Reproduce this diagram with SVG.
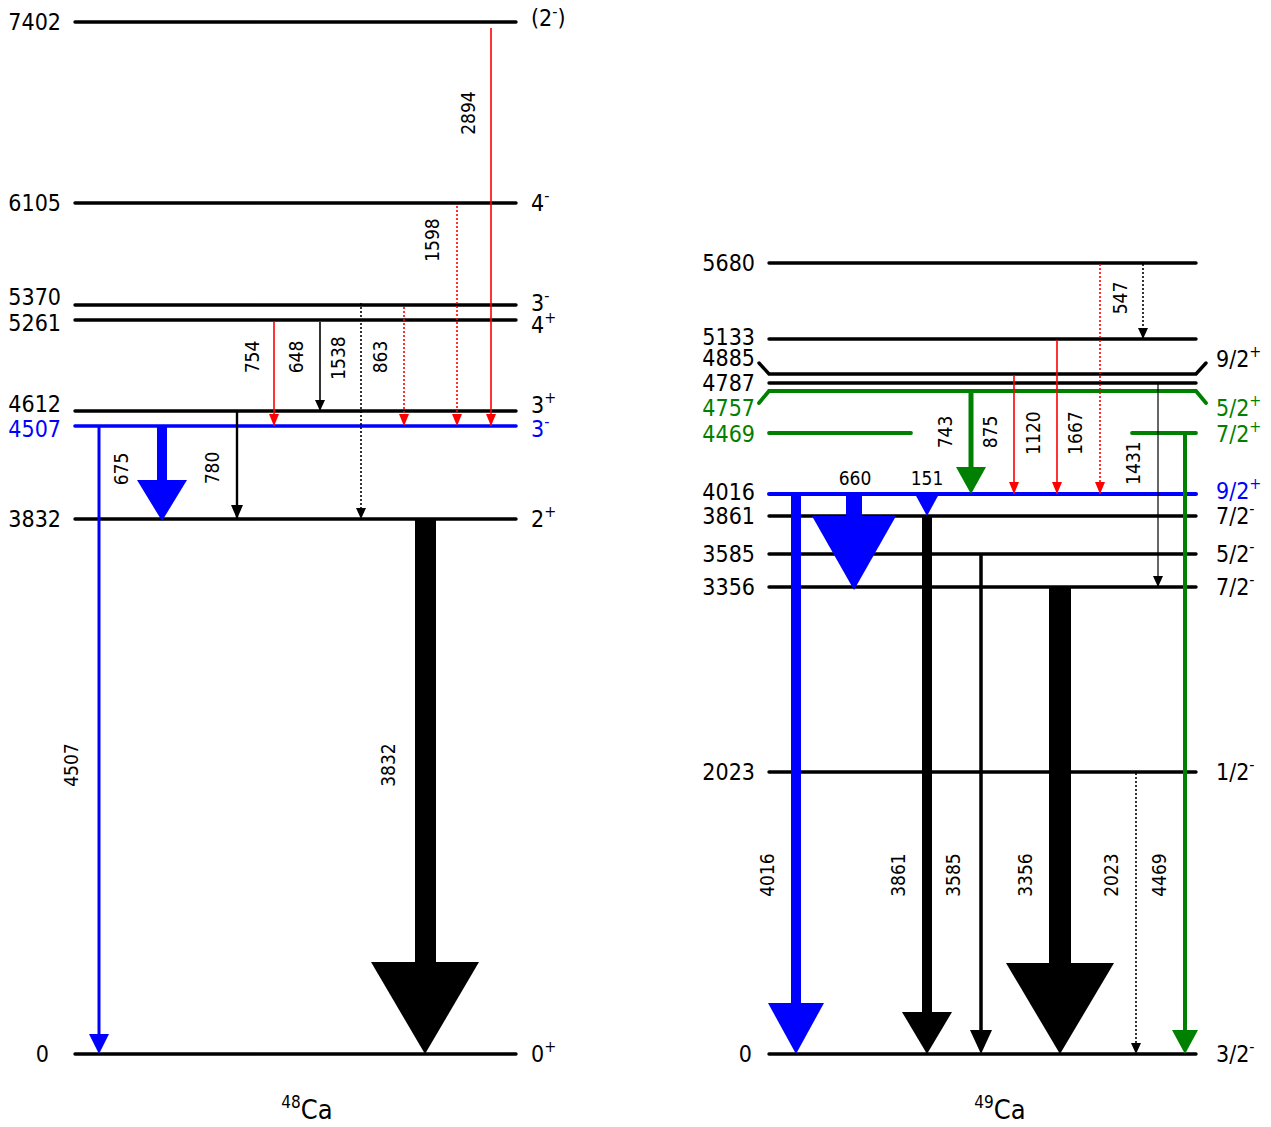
<svg xmlns="http://www.w3.org/2000/svg" width="1271" height="1127" viewBox="0 0 1271 1127">
<style>
text{font-family:"DejaVu Sans Condensed","DejaVu Sans",sans-serif;}
.e{font-size:23px;text-anchor:end;}
.s{font-size:23px;text-anchor:start;}
.sup{font-size:16px;}
.t{font-size:19px;text-anchor:middle;}
.lv{stroke:#000;stroke-width:3.4;stroke-linecap:round;fill:none;}
.bl{fill:#0000ff;}
.gr{fill:#008000;}
.thin{fill:none;stroke-width:1.6;}
.dot{stroke-dasharray:2,2;}
</style>
<defs>
<marker id="ar" viewBox="0 -5 12 10" refX="12" refY="0" markerWidth="12" markerHeight="10" markerUnits="userSpaceOnUse" orient="auto"><path d="M0,-5L12,0L0,5Z" fill="#ff0000"/></marker>
<marker id="ab" viewBox="0 -6 14 12" refX="14" refY="0" markerWidth="14" markerHeight="12" markerUnits="userSpaceOnUse" orient="auto"><path d="M0,-6L14,0L0,6Z" fill="#000"/></marker>
<marker id="abs" viewBox="0 -5 11 10" refX="11" refY="0" markerWidth="11" markerHeight="10" markerUnits="userSpaceOnUse" orient="auto"><path d="M0,-5L11,0L0,5Z" fill="#000"/></marker>
</defs>
<rect width="1271" height="1127" fill="#fff"/>

<!-- 48Ca levels -->
<g id="l48-7402"><line class="lv" x1="75" y1="22" x2="516" y2="22"/><text class="e" x="61" y="30">7402</text><text class="s" x="531" y="26">(2<tspan class="sup" dy="-9">-</tspan><tspan dy="9">)</tspan></text></g>
<g id="l48-6105"><line class="lv" x1="75" y1="203" x2="516" y2="203"/><text class="e" x="61" y="211">6105</text><text class="s" x="531" y="211">4<tspan class="sup" dy="-10">-</tspan></text></g>
<g id="l48-5370"><line class="lv" x1="75" y1="305" x2="516" y2="305"/><text class="e" x="61" y="305">5370</text><text class="s" x="531" y="311">3<tspan class="sup" dy="-10">-</tspan></text></g>
<g id="l48-5261"><line class="lv" x1="75" y1="320" x2="516" y2="320"/><text class="e" x="61" y="331">5261</text><text class="s" x="531" y="333">4<tspan class="sup" dy="-10">+</tspan></text></g>
<g id="l48-4612"><line class="lv" x1="75" y1="411" x2="516" y2="411"/><text class="e" x="61" y="412">4612</text><text class="s" x="531" y="413">3<tspan class="sup" dy="-10">+</tspan></text></g>
<g id="l48-4507"><line class="lv" style="stroke:#0000ff;stroke-width:3.6" x1="75" y1="426" x2="516" y2="426"/><text class="e" x="61" y="437" fill="#0000ff">4507</text><text class="s" x="531" y="437" fill="#0000ff">3<tspan class="sup" dy="-10">-</tspan></text></g>
<g id="l48-3832"><line class="lv" x1="75" y1="519" x2="516" y2="519"/><text class="e" x="61" y="527">3832</text><text class="s" x="531" y="527">2<tspan class="sup" dy="-10">+</tspan></text></g>
<g id="l48-0"><line class="lv" x1="75" y1="1054" x2="516" y2="1054"/><text class="e" x="49" y="1062">0</text><text class="s" x="531" y="1062">0<tspan class="sup" dy="-10">+</tspan></text></g>
<g id="t48"><text x="307" y="1119" style="font-size:27px;text-anchor:middle"><tspan style="font-size:17px" dy="-11">48</tspan><tspan dy="11">Ca</tspan></text></g>

<!-- 49Ca levels -->
<g id="l49-5680"><line class="lv" x1="769" y1="263" x2="1196" y2="263"/><text class="e" x="755" y="271">5680</text></g>
<g id="l49-5133"><line class="lv" x1="769" y1="339" x2="1196" y2="339"/><text class="e" x="755" y="345">5133</text></g>
<g id="l49-4885"><polyline class="lv" points="759,363 769,374 1196,374 1206,363"/><text class="e" x="755" y="366">4885</text><text class="s" x="1216" y="367">9/2<tspan class="sup" dy="-10">+</tspan></text></g>
<g id="l49-4787"><line class="lv" x1="769" y1="383" x2="1196" y2="383"/><text class="e" x="755" y="391">4787</text></g>
<g id="l49-4757"><polyline class="lv" style="stroke:#008000;stroke-width:3.8" points="759,403 769,391 1196,391 1206,403"/><text class="e" x="755" y="416" fill="#008000">4757</text><text class="s" x="1216" y="416" fill="#008000">5/2<tspan class="sup" dy="-10">+</tspan></text></g>
<g id="l49-4469"><line class="lv" style="stroke:#008000;stroke-width:3.8" x1="769" y1="433" x2="911" y2="433"/><line class="lv" style="stroke:#008000;stroke-width:3.8" x1="1132" y1="433" x2="1196" y2="433"/><text class="e" x="755" y="442" fill="#008000">4469</text><text class="s" x="1216" y="442" fill="#008000">7/2<tspan class="sup" dy="-10">+</tspan></text></g>
<g id="l49-4016"><line class="lv" style="stroke:#0000ff;stroke-width:4" x1="769" y1="494" x2="1196" y2="494"/><text class="e" x="755" y="500">4016</text><text class="s" x="1216" y="499" fill="#0000ff">9/2<tspan class="sup" dy="-10">+</tspan></text></g>
<g id="l49-3861"><line class="lv" x1="769" y1="516" x2="1196" y2="516"/><text class="e" x="755" y="524">3861</text><text class="s" x="1216" y="524">7/2<tspan class="sup" dy="-10">-</tspan></text></g>
<g id="l49-3585"><line class="lv" x1="769" y1="554" x2="1196" y2="554"/><text class="e" x="755" y="562">3585</text><text class="s" x="1216" y="562">5/2<tspan class="sup" dy="-10">-</tspan></text></g>
<g id="l49-3356"><line class="lv" x1="769" y1="587" x2="1196" y2="587"/><text class="e" x="755" y="595">3356</text><text class="s" x="1216" y="595">7/2<tspan class="sup" dy="-10">-</tspan></text></g>
<g id="l49-2023"><line class="lv" x1="769" y1="772" x2="1196" y2="772"/><text class="e" x="755" y="780">2023</text><text class="s" x="1216" y="780">1/2<tspan class="sup" dy="-10">-</tspan></text></g>
<g id="l49-0"><line class="lv" x1="769" y1="1054" x2="1196" y2="1054"/><text class="e" x="752" y="1062">0</text><text class="s" x="1216" y="1062">3/2<tspan class="sup" dy="-10">-</tspan></text></g>
<g id="t49"><text x="1000" y="1119" style="font-size:27px;text-anchor:middle"><tspan style="font-size:17px" dy="-11">49</tspan><tspan dy="11">Ca</tspan></text></g>

<!-- connectors -->
<g id="connectors">
<!-- 48Ca -->
<line class="thin" stroke="#ff0000" x1="491" y1="28" x2="491" y2="426" marker-end="url(#ar)"/>
<line class="thin dot" stroke="#ff0000" x1="457" y1="206" x2="457" y2="426" marker-end="url(#ar)"/>
<line class="thin" stroke="#ff0000" x1="274" y1="322" x2="274" y2="426" marker-end="url(#ar)"/>
<line class="thin" stroke="#000" x1="320" y1="322" x2="320" y2="411" marker-end="url(#abs)"/>
<line class="thin dot" stroke="#000" x1="361" y1="303" x2="361" y2="519" marker-end="url(#abs)"/>
<line class="thin dot" stroke="#ff0000" x1="404" y1="307" x2="404" y2="426" marker-end="url(#ar)"/>
<line fill="none" stroke="#000" stroke-width="2.4" x1="237" y1="411" x2="237" y2="519" marker-end="url(#ab)"/>
<rect class="bl" x="157" y="426" width="10" height="55"/>
<polygon class="bl" points="137,480 187,480 162,521"/>
<line stroke="#0000ff" stroke-width="3" x1="99" y1="426" x2="99" y2="1036"/>
<polygon class="bl" points="89,1034 109,1034 99,1054"/>
<rect x="415" y="519" width="21" height="444" fill="#000"/>
<polygon points="371,962 479,962 425,1054" fill="#000"/>
<!-- 49Ca -->
<line class="thin dot" stroke="#000" x1="1143" y1="264" x2="1143" y2="339" marker-end="url(#abs)"/>
<line class="thin dot" stroke="#ff0000" x1="1100" y1="264" x2="1100" y2="494" marker-end="url(#ar)"/>
<line class="thin" stroke="#ff0000" stroke-width="2" x1="1057" y1="340" x2="1057" y2="494" marker-end="url(#ar)"/>
<line class="thin" stroke="#ff0000" x1="1014" y1="375" x2="1014" y2="494" marker-end="url(#ar)"/>
<line fill="none" stroke="#000" stroke-width="1.2" x1="1158" y1="383" x2="1158" y2="587" marker-end="url(#abs)"/>
<rect class="gr" x="968.5" y="391" width="5" height="77"/>
<polygon class="gr" points="956,467 986,467 971,494"/>
<line stroke="#008000" stroke-width="4" x1="1185" y1="433" x2="1185" y2="1031"/>
<polygon class="gr" points="1172,1030 1198,1030 1185,1054"/>
<rect class="bl" x="846" y="494" width="16" height="23"/>
<polygon class="bl" points="812,516 896,516 854,590"/>
<polygon class="bl" points="915,494 939,494 927,516"/>
<rect class="bl" x="791" y="494" width="10" height="510"/>
<polygon class="bl" points="768,1003 824,1003 796,1054"/>
<rect x="922" y="516" width="10" height="497" fill="#000"/>
<polygon points="902,1012 952,1012 927,1054" fill="#000"/>
<line stroke="#000" stroke-width="3.5" x1="981" y1="554" x2="981" y2="1031"/>
<polygon points="970,1030 992,1030 981,1054" fill="#000"/>
<rect x="1049" y="587" width="22" height="377" fill="#000"/>
<polygon points="1006,963 1114,963 1060,1054" fill="#000"/>
<line class="thin dot" stroke="#000" x1="1136" y1="773" x2="1136" y2="1054" marker-end="url(#abs)"/>
</g>

<!-- transition labels -->
<g id="labels">
<text class="t" transform="translate(468,113) rotate(-90)" dy="0.35em">2894</text>
<text class="t" transform="translate(432,240) rotate(-90)" dy="0.35em">1598</text>
<text class="t" transform="translate(252,357) rotate(-90)" dy="0.35em">754</text>
<text class="t" transform="translate(296,357) rotate(-90)" dy="0.35em">648</text>
<text class="t" transform="translate(338,358) rotate(-90)" dy="0.35em">1538</text>
<text class="t" transform="translate(380,357) rotate(-90)" dy="0.35em">863</text>
<text class="t" transform="translate(121,469) rotate(-90)" dy="0.35em">675</text>
<text class="t" transform="translate(212,468) rotate(-90)" dy="0.35em">780</text>
<text class="t" transform="translate(71,765) rotate(-90)" dy="0.35em">4507</text>
<text class="t" transform="translate(388,765) rotate(-90)" dy="0.35em">3832</text>
<text class="t" transform="translate(1120,298) rotate(-90)" dy="0.35em">547</text>
<text class="t" transform="translate(945,432) rotate(-90)" dy="0.35em">743</text>
<text class="t" transform="translate(990,432) rotate(-90)" dy="0.35em">875</text>
<text class="t" transform="translate(1033,433) rotate(-90)" dy="0.35em">1120</text>
<text class="t" transform="translate(1075,433) rotate(-90)" dy="0.35em">1667</text>
<text class="t" transform="translate(1133,463) rotate(-90)" dy="0.35em">1431</text>
<text class="t" transform="translate(767,875) rotate(-90)" dy="0.35em">4016</text>
<text class="t" transform="translate(898,875) rotate(-90)" dy="0.35em">3861</text>
<text class="t" transform="translate(953,875) rotate(-90)" dy="0.35em">3585</text>
<text class="t" transform="translate(1025,875) rotate(-90)" dy="0.35em">3356</text>
<text class="t" transform="translate(1111,875) rotate(-90)" dy="0.35em">2023</text>
<text class="t" transform="translate(1159,875) rotate(-90)" dy="0.35em">4469</text>
<text class="t" x="855" y="485">660</text>
<text class="t" x="927" y="485">151</text>
</g>
</svg>
